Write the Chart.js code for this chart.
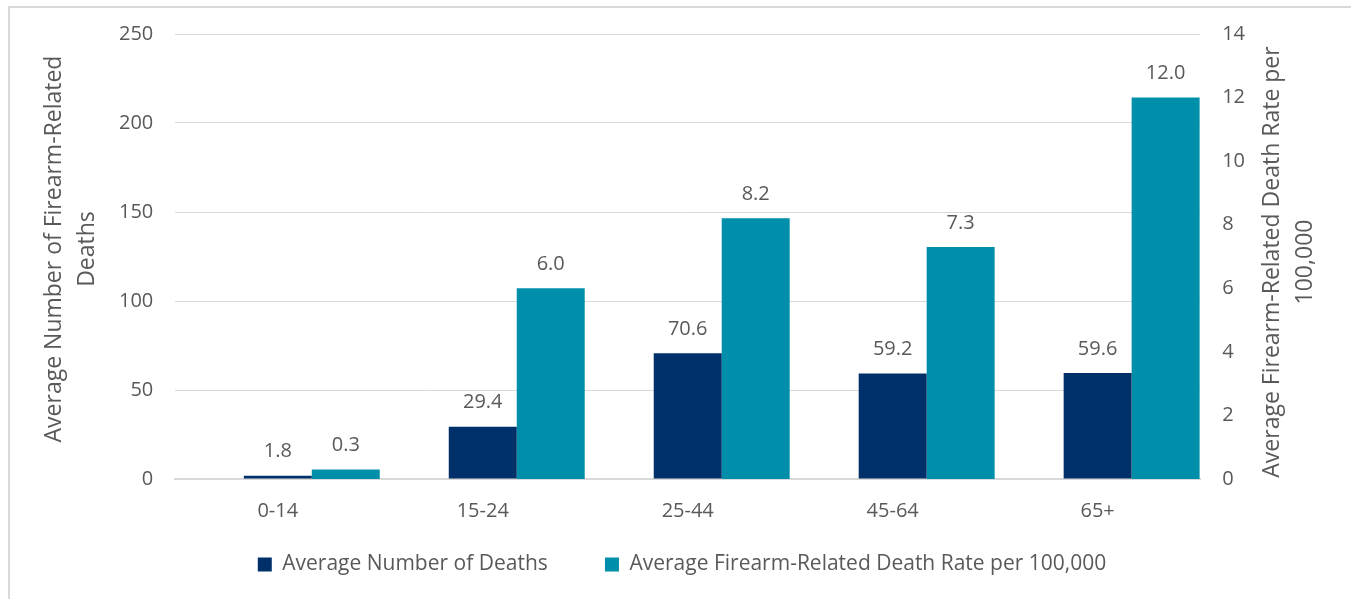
<!DOCTYPE html>
<html>
<head>
<meta charset="utf-8">
<script src="https://cdn.jsdelivr.net/npm/chart.js@4"></script>
<style>
  html, body { margin: 0; padding: 0; background: #fff; }
  #frame {
    position: absolute; left: 8px; top: 6px; width: 1343px; height: 593px;
    border-left: 2px solid #d9d9d9; border-top: 2px solid #d9d9d9;
  }
  #wrap { position: absolute; left: 0; top: 0; width: 1351px; height: 599px; }
</style>
</head>
<body>
<div id="frame"></div>
<div id="wrap"><canvas id="chart" width="1351" height="599"></canvas></div>
<script>
/* ---- data ---- */
const ageGroups = ["0-14", "15-24", "25-44", "45-64", "65+"];
const avgDeaths = [1.8, 29.4, 70.6, 59.2, 59.6];
const deathRate = [0.3, 6.0, 8.2, 7.3, 12.0];
const spacer = [null, null, null, null, null];   // empty slot so navy bar sits on the category centre

const leftTitle = ["Average Number of Firearm-Related", "Deaths"];
const rightTitle = ["Average Firearm-Related Death Rate per", "100,000"];

const NAVY = "#003069";
const TEAL = "#008FAA";
const TEXT = "#595959";
const FONT = "'Open Sans', 'Noto Sans', sans-serif";

/* value labels above bars */
const valueLabels = {
  id: "valueLabels",
  afterDatasetsDraw(chart) {
    const ctx = chart.ctx;
    ctx.save();
    ctx.fillStyle = TEXT;
    ctx.font = "20px " + FONT;
    ctx.textAlign = "center";
    ctx.textBaseline = "middle";
    chart.data.datasets.forEach((ds, i) => {
      if (ds.data === spacer) return;
      chart.getDatasetMeta(i).data.forEach((bar, j) => {
        ctx.fillText(ds.data[j].toFixed(1), bar.x, bar.y - 24);
      });
    });
    ctx.restore();
  }
};

/* both axis titles read bottom-to-top, like the original */
const axisTitles = {
  id: "axisTitles",
  afterDraw(chart) {
    const ctx = chart.ctx;
    ctx.save();
    ctx.fillStyle = TEXT;
    ctx.font = "23px " + FONT;
    ctx.textAlign = "center";
    ctx.textBaseline = "middle";
    const draw = (lines, x, y) => {
      ctx.save();
      ctx.translate(x, y);
      ctx.rotate(-Math.PI / 2);
      lines.forEach((t, k) => ctx.fillText(t, 0, k * 33));
      ctx.restore();
    };
    draw(leftTitle, 54, 249);
    draw(rightTitle, 1272, 262);
    ctx.restore();
  }
};

new Chart(document.getElementById("chart"), {
  type: "bar",
  data: {
    labels: ageGroups,
    datasets: [
      { label: "", data: spacer, backgroundColor: "rgba(0,0,0,0)", yAxisID: "y" },
      {
        label: "Average Number of Deaths",
        data: avgDeaths,
        backgroundColor: NAVY,
        yAxisID: "y"
      },
      {
        label: "Average Firearm-Related Death Rate per 100,000",
        data: deathRate,
        backgroundColor: TEAL,
        yAxisID: "y1"
      }
    ]
  },
  options: {
    responsive: false,
    animation: false,
    layout: { padding: { left: 97, right: 84, top: 26, bottom: 14 } },
    datasets: { bar: { barPercentage: 1, categoryPercentage: 0.995 } },
    plugins: {
      legend: {
        position: "bottom",
        labels: {
          color: TEXT,
          font: { size: 21, family: FONT },
          boxWidth: 14,
          boxHeight: 14,
          padding: 19,
          generateLabels: chart =>
            Chart.defaults.plugins.legend.labels.generateLabels(chart)
              .filter(item => item.text !== "")
              .map((item, i) => {
                if (i === 0) item.text += "       ";
                return item;
              })
        }
      },
      tooltip: { enabled: false }
    },
    scales: {
      x: {
        grid: { display: false },
        border: { color: "#d9d9d9", width: 2 },
        ticks: { color: TEXT, font: { size: 20, family: FONT }, padding: 12 }
      },
      y: {
        position: "left",
        min: 0, max: 250,
        ticks: { stepSize: 50, color: TEXT, font: { size: 20, family: FONT }, padding: 22 },
        grid: { color: "#d9d9d9", drawTicks: false },
        border: { display: false }
      },
      y1: {
        position: "right",
        min: 0, max: 14,
        ticks: { stepSize: 2, color: TEXT, font: { size: 20, family: FONT }, padding: 22 },
        grid: { display: false, drawTicks: false },
        border: { display: false }
      }
    }
  },
  plugins: [valueLabels, axisTitles]
});
</script>
</body>
</html>
